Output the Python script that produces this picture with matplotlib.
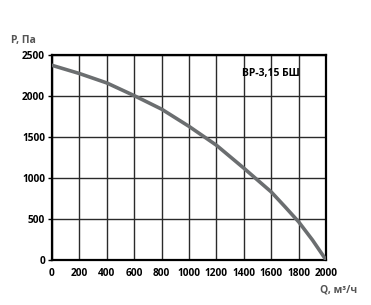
import matplotlib.pyplot as plt

# характеристика вентилятора
q_vals = [0, 200, 400, 600, 800, 1000, 1200, 1400, 1600, 1700, 1800, 1900, 2000]
p_vals = [2375, 2275, 2160, 2005, 1840, 1630, 1400, 1120, 830, 650, 465, 245, 0]
x_ticks = [0, 200, 400, 600, 800, 1000, 1200, 1400, 1600, 1800, 2000]
y_ticks = [0, 500, 1000, 1500, 2000, 2500]
model = "ВР-3,15 БШ"

plt.rcParams['font.family'] = ['Open Sans', 'DejaVu Sans']

fig = plt.figure(figsize=(3.71, 3.05), dpi=100)
ax = fig.add_axes([0.140, 0.1475, 0.739, 0.672])

ax.plot(q_vals, p_vals, color='#6b6e70', lw=2.6, solid_capstyle='round', zorder=3)

ax.set_xlim(0, 2000)
ax.set_ylim(0, 2500)
ax.set_xticks(x_ticks)
ax.set_yticks(y_ticks)
ax.grid(True, color='#2a2a2a', lw=1.0)
ax.set_axisbelow(True)

for s in ax.spines.values():
    s.set_linewidth(1.6)
    s.set_color('black')

ax.tick_params(axis='x', length=0, pad=6, labelsize=7.3)
ax.tick_params(axis='y', length=3, width=1, pad=2, labelsize=7.3)
for lbl in ax.get_xticklabels() + ax.get_yticklabels():
    lbl.set_fontweight('bold')

fig.text(0.030, 0.866, "P, Па", color='#555555', fontsize=7.5, fontweight='bold',
         ha='left', va='center')
fig.text(0.963, 0.049, "Q, м³/ч", color='#555555', fontsize=7.5, fontweight='bold',
         ha='right', va='center')
ax.text(0.905, 0.912, model, transform=ax.transAxes, fontsize=7.5, fontweight='bold',
        ha='right', va='center', zorder=4)

fig.savefig("out.png", dpi=100)
plt.close(fig)
